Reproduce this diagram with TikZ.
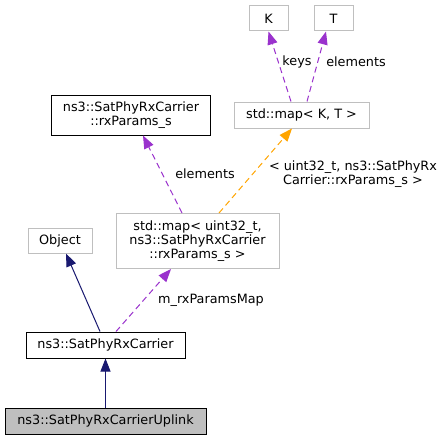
\documentclass[tikz,border=0pt]{standalone}
\usepackage{fontspec}
\setmainfont{DejaVu Sans}
\usetikzlibrary{arrows.meta}
\definecolor{edgepurple}{HTML}{9A32CD}
\definecolor{edgeorange}{HTML}{FFA500}
\definecolor{edgeblue}{HTML}{191970}
\definecolor{boxgrey}{HTML}{BFBFBF}
\begin{document}
\begin{tikzpicture}[x=1pt,y=1pt,
  every node/.style={font=\fontsize{12.8}{14}\selectfont, inner sep=0pt, align=center},
  greybox/.style={draw=boxgrey, line width=1pt, fill=white},
  blackbox/.style={draw=black, line width=1pt, fill=white},
  focusbox/.style={draw=black, line width=1pt, fill=boxgrey},
  usage/.style={draw=edgepurple, dash pattern=on 6pt off 4pt, line width=1pt, -{Triangle[length=13pt,width=10pt,fill=edgepurple]}},
  templ/.style={draw=edgeorange, dash pattern=on 6pt off 4pt, line width=1pt, -{Triangle[length=13pt,width=10pt,fill=edgeorange]}},
  inherit/.style={draw=edgeblue, line width=1pt, -{Triangle[length=13pt,width=10pt,fill=edgeblue]}},
  lbl/.style={fill=none}
]
\useasboundingbox (0,0) rectangle (443,440);
\fill[white] (0,0) rectangle (443,440);

\node[greybox, minimum width=39pt, minimum height=25pt] (K) at (268.5,421.5) {K};
\node[greybox, minimum width=39pt, minimum height=25pt] (T) at (333.5,421.5) {T};
\node[greybox, minimum width=135pt, minimum height=26pt] (mapKT) at (301.5,325) {std::map\textless{} K, T \textgreater};
\node[blackbox, minimum width=159pt, minimum height=40pt] (rx) at (131,325) {ns3::SatPhyRxCarrier\\::rxParams\_s};
\node[greybox, minimum width=163pt, minimum height=55pt] (mapU) at (197.5,199) {std::map\textless{} uint32\_t,\\ ns3::SatPhyRxCarrier\\::rxParams\_s \textgreater};
\node[greybox, minimum width=64pt, minimum height=25pt] (obj) at (60,199.5) {Object};
\node[blackbox, minimum width=159pt, minimum height=26pt] (car) at (105.5,95) {ns3::SatPhyRxCarrier};
\node[focusbox, minimum width=201pt, minimum height=26pt] (up) at (105.5,19) {ns3::SatPhyRxCarrierUplink};

\draw[usage] ([xshift=-10.5pt]mapKT.north) -- (K.south);
\draw[usage] ([xshift=5.5pt]mapKT.north) -- ([xshift=-7.5pt]T.south);
\draw[usage] ([xshift=-15.5pt]mapU.north) -- ([xshift=12pt]rx.south);
\draw[templ] ([xshift=21.5pt]mapU.north) -- ([xshift=-9.5pt]mapKT.south);
\draw[usage] ([xshift=10.5pt]car.north) -- ([xshift=-26.5pt]mapU.south);
\draw[inherit] ([xshift=-5.5pt]car.north) -- ([xshift=6pt]obj.south);
\draw[inherit] (up.north) -- (car.south);

\node[lbl] (lkeys) at (297,378) {keys};
\node[lbl] (lelT) at (356,378) {elements};
\node[lbl] (lelrx) at (205,266) {elements};
\node[lbl] (ltempl) at (353,266) {\textless{} uint32\_t, ns3::SatPhyRx\\Carrier::rxParams\_s \textgreater};
\node[lbl] (lmap) at (211,140) {m\_rxParamsMap};
\end{tikzpicture}
\end{document}
